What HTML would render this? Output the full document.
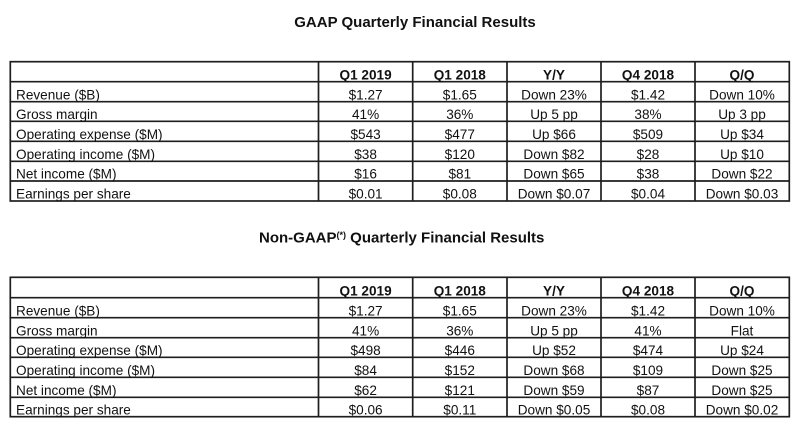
<!DOCTYPE html>
<html><head><meta charset="utf-8"><style>
html,body{margin:0;padding:0;background:#fff;}
svg{display:block;}
text{font-family:"Liberation Sans",Arial,sans-serif;fill:#111;}
.h{font-weight:bold;font-size:13.6px;}
.d{font-size:13.6px;}
.t{font-weight:bold;font-size:15px;}
</style></head><body>
<svg width="800" height="429" viewBox="0 0 800 429" xmlns="http://www.w3.org/2000/svg">
<rect width="800" height="429" fill="#fff"/>
<text class="t" x="415" y="27" text-anchor="middle">GAAP Quarterly Financial Results</text>
<text class="t" x="259" y="242.5">Non-GAAP<tspan font-size="9" dy="-4.5">(*)</tspan><tspan dy="4.5"> Quarterly Financial Results</tspan></text>

<g stroke="#1e1e1e" stroke-width="1.7" fill="none">
  <!-- top table -->
  <rect x="10.3" y="61.7" width="779" height="139.3"/>
  <line x1="10.3" y1="81.7" x2="789.3" y2="81.7"/>
  <line x1="10.3" y1="101.7" x2="789.3" y2="101.7"/>
  <line x1="10.3" y1="121.3" x2="789.3" y2="121.3"/>
  <line x1="10.3" y1="141.3" x2="789.3" y2="141.3"/>
  <line x1="10.3" y1="161.3" x2="789.3" y2="161.3"/>
  <line x1="10.3" y1="181" x2="789.3" y2="181"/>
  <line x1="318.5" y1="61.7" x2="318.5" y2="201"/>
  <line x1="412.7" y1="61.7" x2="412.7" y2="201"/>
  <line x1="507" y1="61.7" x2="507" y2="201"/>
  <line x1="601" y1="61.7" x2="601" y2="201"/>
  <line x1="695" y1="61.7" x2="695" y2="201"/>
  <!-- bottom table -->
  <rect x="10.3" y="277.3" width="779" height="139.4"/>
  <line x1="10.3" y1="297.7" x2="789.3" y2="297.7"/>
  <line x1="10.3" y1="317.7" x2="789.3" y2="317.7"/>
  <line x1="10.3" y1="337.7" x2="789.3" y2="337.7"/>
  <line x1="10.3" y1="357.3" x2="789.3" y2="357.3"/>
  <line x1="10.3" y1="377.3" x2="789.3" y2="377.3"/>
  <line x1="10.3" y1="397.3" x2="789.3" y2="397.3"/>
  <line x1="318.5" y1="277.3" x2="318.5" y2="416.7"/>
  <line x1="412.7" y1="277.3" x2="412.7" y2="416.7"/>
  <line x1="507" y1="277.3" x2="507" y2="416.7"/>
  <line x1="601" y1="277.3" x2="601" y2="416.7"/>
  <line x1="695" y1="277.3" x2="695" y2="416.7"/>
</g>

<!-- top table text -->
<g class="h" text-anchor="middle">
  <text class="h" x="365.6" y="79.5">Q1 2019</text>
  <text class="h" x="459.8" y="79.5">Q1 2018</text>
  <text class="h" x="554" y="79.5">Y/Y</text>
  <text class="h" x="648" y="79.5">Q4 2018</text>
  <text class="h" x="742" y="79.5">Q/Q</text>
</g>
<g class="d">
  <text class="d" x="16" y="99.3">Revenue ($B)</text>
  <text class="d" x="16" y="119">Gross margin</text>
  <text class="d" x="16" y="138.8">Operating expense ($M)</text>
  <text class="d" x="16" y="158.8">Operating income ($M)</text>
  <text class="d" x="16" y="178.6">Net income ($M)</text>
  <text class="d" x="16" y="198.5">Earnings per share</text>
</g>
<g text-anchor="middle">
  <text class="d" x="365.6" y="99.3">$1.27</text><text class="d" x="459.8" y="99.3">$1.65</text><text class="d" x="554" y="99.3">Down 23%</text><text class="d" x="648" y="99.3">$1.42</text><text class="d" x="742" y="99.3">Down 10%</text>
  <text class="d" x="365.6" y="119">41%</text><text class="d" x="459.8" y="119">36%</text><text class="d" x="554" y="119">Up 5 pp</text><text class="d" x="648" y="119">38%</text><text class="d" x="742" y="119">Up 3 pp</text>
  <text class="d" x="365.6" y="138.8">$543</text><text class="d" x="459.8" y="138.8">$477</text><text class="d" x="554" y="138.8">Up $66</text><text class="d" x="648" y="138.8">$509</text><text class="d" x="742" y="138.8">Up $34</text>
  <text class="d" x="365.6" y="158.8">$38</text><text class="d" x="459.8" y="158.8">$120</text><text class="d" x="554" y="158.8">Down $82</text><text class="d" x="648" y="158.8">$28</text><text class="d" x="742" y="158.8">Up $10</text>
  <text class="d" x="365.6" y="178.6">$16</text><text class="d" x="459.8" y="178.6">$81</text><text class="d" x="554" y="178.6">Down $65</text><text class="d" x="648" y="178.6">$38</text><text class="d" x="742" y="178.6">Down $22</text>
  <text class="d" x="365.6" y="198.5">$0.01</text><text class="d" x="459.8" y="198.5">$0.08</text><text class="d" x="554" y="198.5">Down $0.07</text><text class="d" x="648" y="198.5">$0.04</text><text class="d" x="742" y="198.5">Down $0.03</text>
</g>

<!-- bottom table text -->
<g text-anchor="middle">
  <text class="h" x="365.6" y="295.3">Q1 2019</text>
  <text class="h" x="459.8" y="295.3">Q1 2018</text>
  <text class="h" x="554" y="295.3">Y/Y</text>
  <text class="h" x="648" y="295.3">Q4 2018</text>
  <text class="h" x="742" y="295.3">Q/Q</text>
</g>
<g>
  <text class="d" x="16" y="315.3">Revenue ($B)</text>
  <text class="d" x="16" y="335.3">Gross margin</text>
  <text class="d" x="16" y="355">Operating expense ($M)</text>
  <text class="d" x="16" y="374.8">Operating income ($M)</text>
  <text class="d" x="16" y="394.8">Net income ($M)</text>
  <text class="d" x="16" y="414.3">Earnings per share</text>
</g>
<g text-anchor="middle">
  <text class="d" x="365.6" y="315.3">$1.27</text><text class="d" x="459.8" y="315.3">$1.65</text><text class="d" x="554" y="315.3">Down 23%</text><text class="d" x="648" y="315.3">$1.42</text><text class="d" x="742" y="315.3">Down 10%</text>
  <text class="d" x="365.6" y="335.3">41%</text><text class="d" x="459.8" y="335.3">36%</text><text class="d" x="554" y="335.3">Up 5 pp</text><text class="d" x="648" y="335.3">41%</text><text class="d" x="742" y="335.3">Flat</text>
  <text class="d" x="365.6" y="355">$498</text><text class="d" x="459.8" y="355">$446</text><text class="d" x="554" y="355">Up $52</text><text class="d" x="648" y="355">$474</text><text class="d" x="742" y="355">Up $24</text>
  <text class="d" x="365.6" y="374.8">$84</text><text class="d" x="459.8" y="374.8">$152</text><text class="d" x="554" y="374.8">Down $68</text><text class="d" x="648" y="374.8">$109</text><text class="d" x="742" y="374.8">Down $25</text>
  <text class="d" x="365.6" y="394.8">$62</text><text class="d" x="459.8" y="394.8">$121</text><text class="d" x="554" y="394.8">Down $59</text><text class="d" x="648" y="394.8">$87</text><text class="d" x="742" y="394.8">Down $25</text>
  <text class="d" x="365.6" y="414.3">$0.06</text><text class="d" x="459.8" y="414.3">$0.11</text><text class="d" x="554" y="414.3">Down $0.05</text><text class="d" x="648" y="414.3">$0.08</text><text class="d" x="742" y="414.3">Down $0.02</text>
</g>
</svg>
</body></html>
